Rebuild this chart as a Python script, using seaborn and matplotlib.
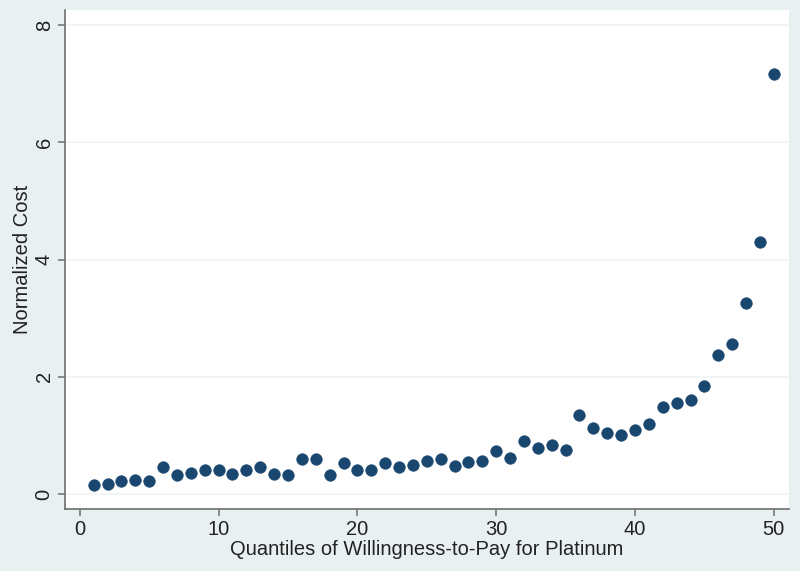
import numpy as np
import pandas as pd
import matplotlib
matplotlib.use("Agg")
import matplotlib.pyplot as plt
import seaborn as sns

# quantile index and normalized cost
quantiles = list(range(1, 51))
cost = [0.15, 0.18, 0.22, 0.24, 0.22, 0.46, 0.33, 0.36, 0.41, 0.41,
        0.35, 0.41, 0.47, 0.35, 0.33, 0.59, 0.59, 0.33, 0.53, 0.41,
        0.41, 0.53, 0.46, 0.50, 0.57, 0.59, 0.48, 0.55, 0.57, 0.74,
        0.61, 0.91, 0.78, 0.83, 0.76, 1.35, 1.13, 1.04, 1.00, 1.09,
        1.20, 1.49, 1.55, 1.60, 1.85, 2.38, 2.56, 3.26, 4.30, 7.16]
x_ticks = [0, 10, 20, 30, 40, 50]
y_ticks = [0, 2, 4, 6, 8]

df = pd.DataFrame({"quantile": quantiles, "cost": cost})

sns.set_style("white")
plt.rcParams['font.family'] = ['Liberation Sans', 'DejaVu Sans']

bg = "#e9f0f2"
navy = "#1a476f"
axis_col = "#6e6e6e"
fs = 14.5

fig = plt.figure(figsize=(8, 5.71), dpi=100, facecolor=bg)
ax = fig.add_axes([0.081, 0.109, 0.905, 0.873])
ax.set_facecolor("white")

sns.scatterplot(data=df, x="quantile", y="cost", ax=ax, color=navy,
                s=72, edgecolor=navy, linewidth=0.3, zorder=3)

ax.set_xlim(-1.08, 51.08)
ax.set_ylim(-0.25, 8.25)
ax.set_xticks(x_ticks)
ax.set_yticks(y_ticks)
ax.set_yticklabels([str(v) for v in y_ticks], rotation=90, va="center")

for v in y_ticks:
    ax.axhline(v, color="#edf3f5", lw=1.2, zorder=1)

for side in ["top", "right"]:
    ax.spines[side].set_visible(False)
for side in ["left", "bottom"]:
    ax.spines[side].set_color(axis_col)
    ax.spines[side].set_linewidth(1.2)

ax.tick_params(axis="both", which="major", direction="out", length=5,
               width=1.1, color=axis_col, labelsize=fs, labelcolor="#222222",
               bottom=True, left=True, pad=3)

ax.set_xlabel("Quantiles of Willingness-to-Pay for Platinum", fontsize=fs,
              color="#222222", labelpad=1)
ax.set_ylabel("Normalized Cost", fontsize=fs, color="#222222", labelpad=2)

fig.savefig("out.png", dpi=100, facecolor=bg)
